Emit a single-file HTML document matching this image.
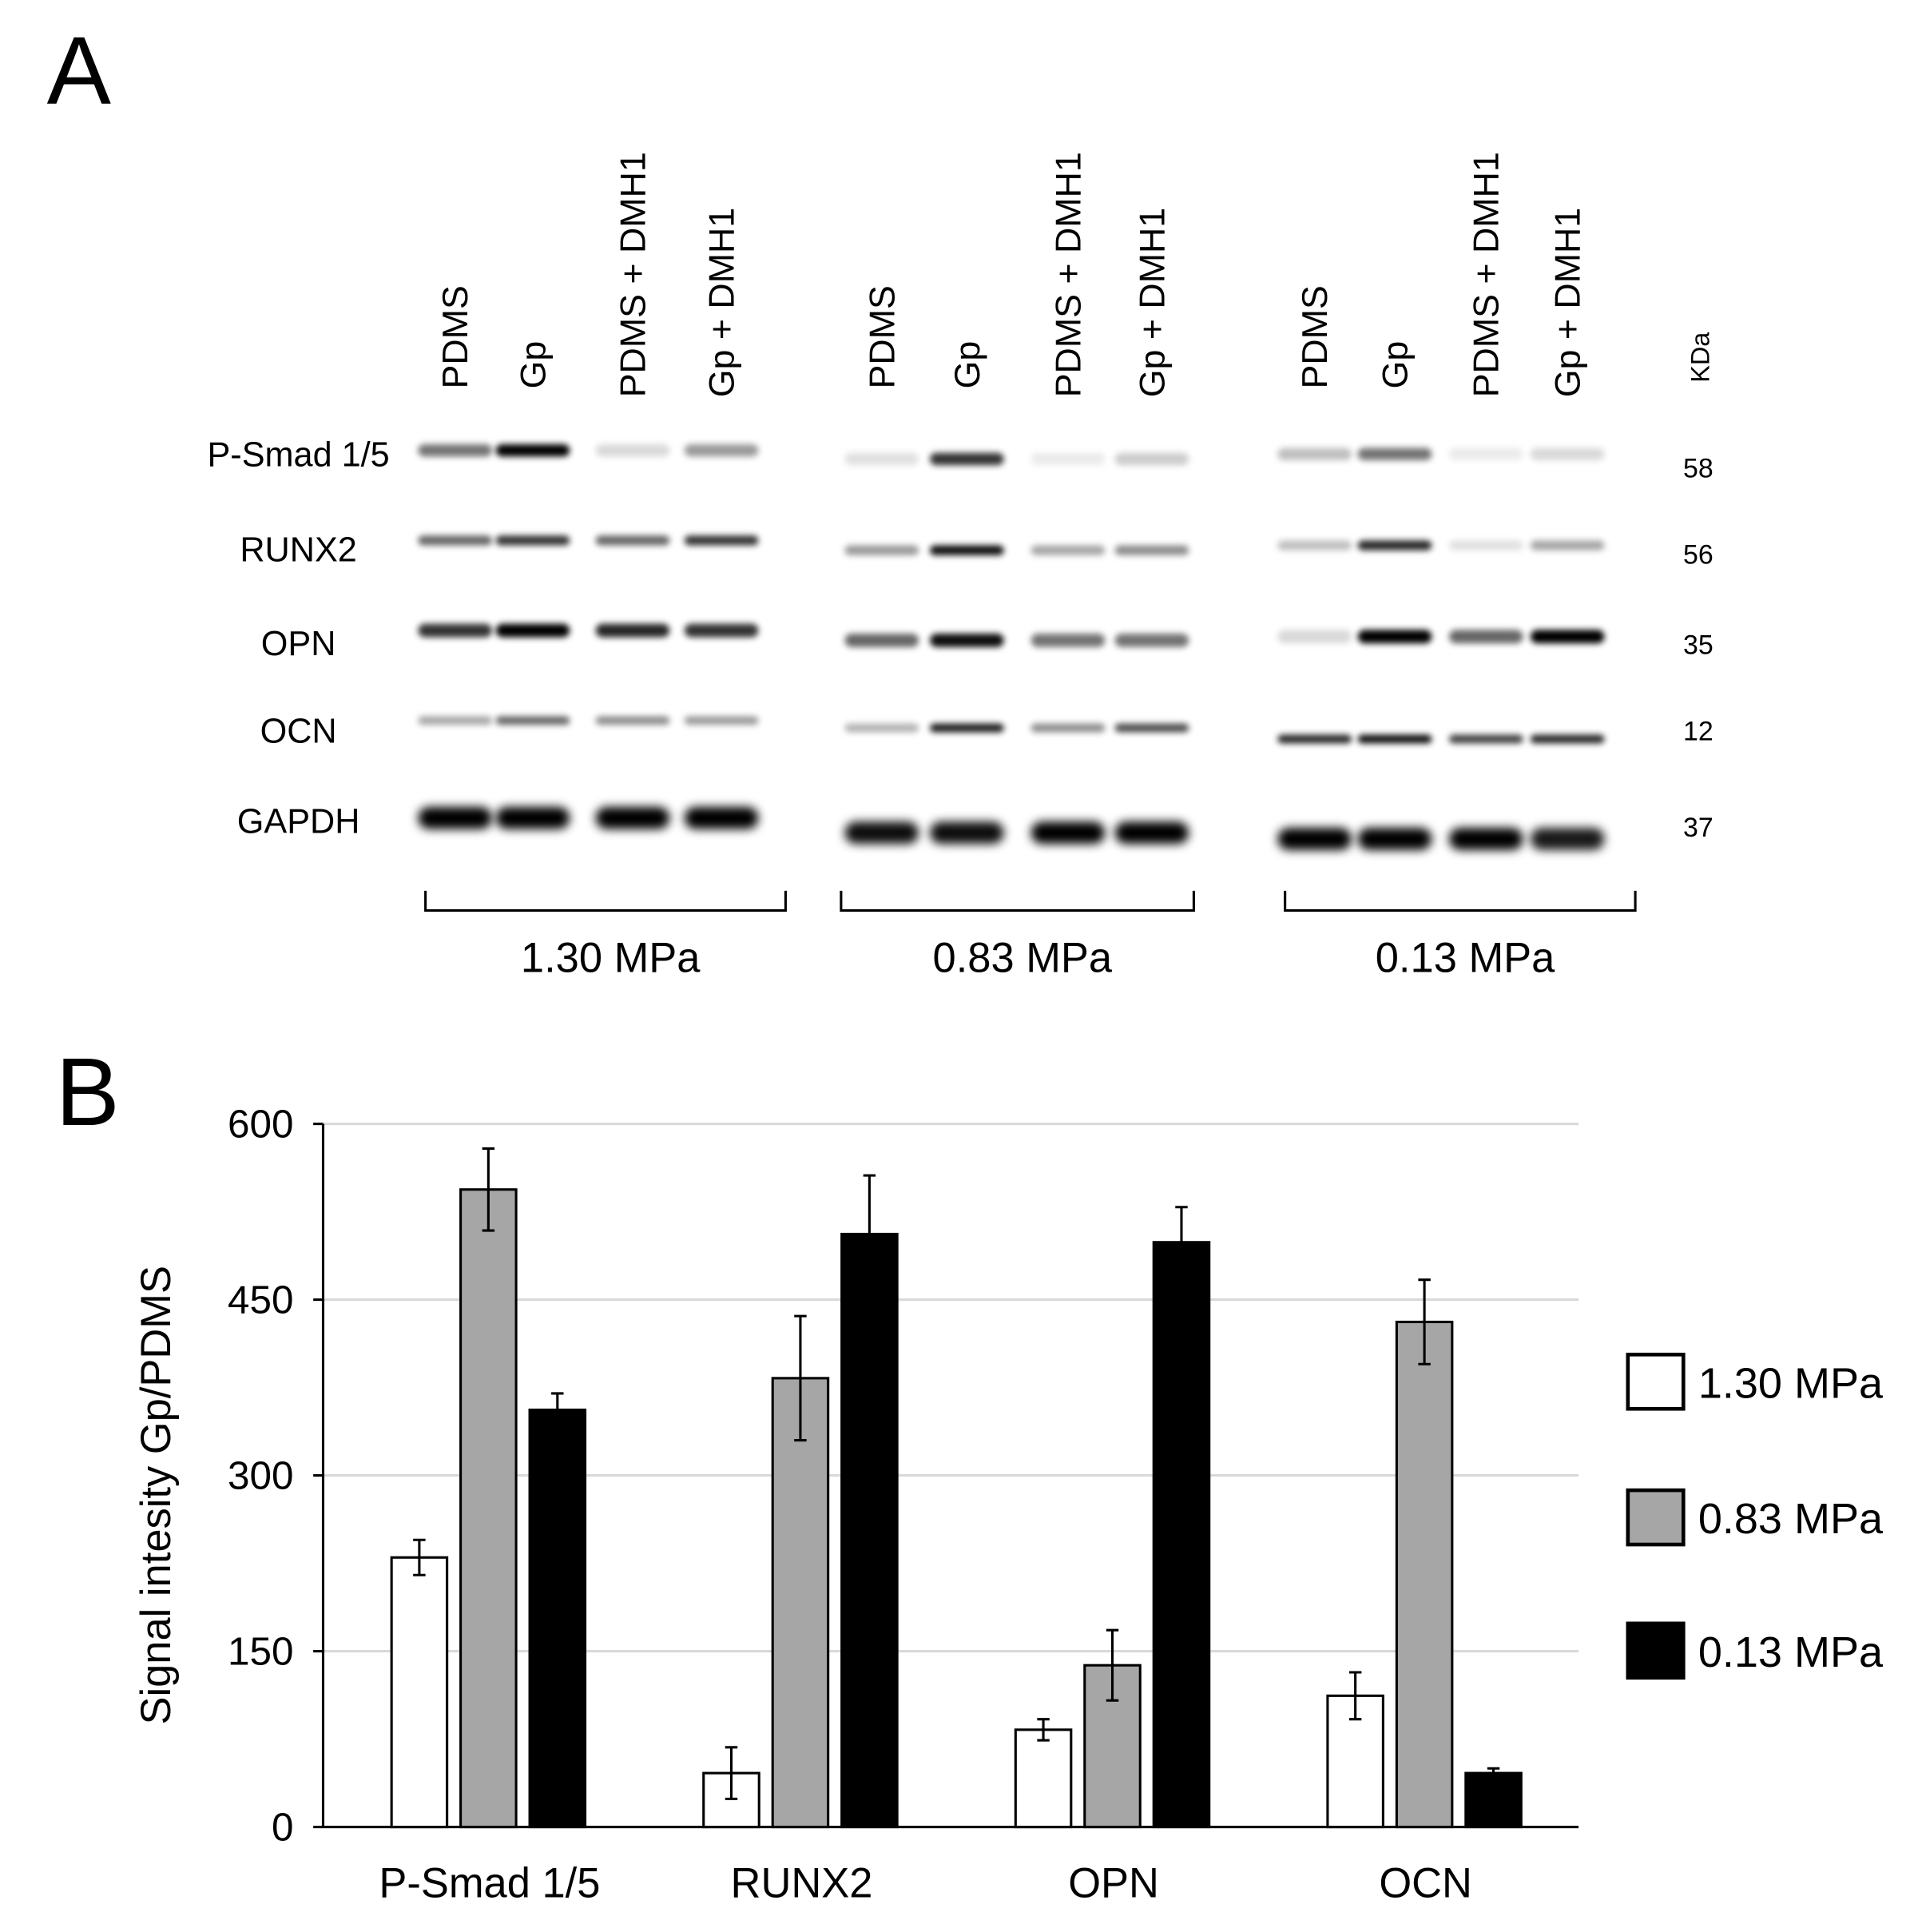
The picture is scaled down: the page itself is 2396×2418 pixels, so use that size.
<!DOCTYPE html>
<html><head><meta charset="utf-8"><style>
html,body{margin:0;padding:0;background:#fff}
svg{display:block;font-family:"Liberation Sans",Arial,sans-serif}
</style></head><body>
<svg id="fig" width="2396" height="2418" viewBox="0 0 1552 1566" xmlns="http://www.w3.org/2000/svg">
<defs>
<filter id="blur" x="-50%" y="-100%" width="200%" height="300%"><feGaussianBlur stdDeviation="2.5"/></filter>
<filter id="blur2" x="-50%" y="-100%" width="200%" height="300%"><feGaussianBlur stdDeviation="4"/></filter>
</defs>
<text x="38" y="84" font-size="78">A</text>
<text x="45" y="912" font-size="78">B</text>
<g id="blot"></g>
<g id="chart"></g>
</svg>
<script>
// ---------- Panel A data ----------
const laneNames = ["PDMS","Gp","PDMS + DMH1","Gp + DMH1"];
const groupNames = ["1.30 MPa","0.83 MPa","0.13 MPa"];
const proteinNames = ["P-Smad 1/5","RUNX2","OPN","OCN","GAPDH"];
const kdaValues = ["58","56","35","12","37"];
// band intensities [row][group][lane] 0..1
const bandIntensity = [
  [[0.55,1.0,0.15,0.4],[0.12,0.8,0.08,0.2],[0.25,0.55,0.08,0.15]],
  [[0.6,0.8,0.6,0.8],[0.4,0.95,0.35,0.45],[0.25,0.85,0.12,0.35]],
  [[0.8,1.0,0.85,0.8],[0.6,0.95,0.55,0.55],[0.15,1.0,0.6,1.0]],
  [[0.35,0.6,0.45,0.4],[0.3,0.9,0.45,0.7],[0.85,0.95,0.75,0.85]],
  [[1.0,1.0,1.0,1.0],[0.95,0.95,1.0,1.0],[1.0,1.0,1.0,0.9]]
];
const NS="http://www.w3.org/2000/svg";
function mk(tag, attrs, parent, txt){const e=document.createElementNS(NS,tag);for(const k in attrs)e.setAttribute(k,attrs[k]);if(txt!==undefined)e.textContent=txt;parent.appendChild(e);return e;}
const blot=document.getElementById('blot');
const laneX=[[369,432,513,585],[715,784,866,934],[1066,1131,1205,1271]];
const rowY=[[365,372,368],[438,446,442],[511,519,516],[584,590,599],[663,675,680]];
const rowH=[10,8,11,7,18];
const labelY=[368,445,521,592,665];
const kdaY=[379,449,522,592,670];
laneX.forEach((g,gi)=>g.forEach((x,li)=>{
  const t=mk('text',{x:0,y:0,'font-size':29,transform:`translate(${x+10},${li==2||li==3?322:315}) rotate(-90)`},blot,laneNames[li]);
  
  
}));
const kt=mk('text',{x:0,y:0,'font-size':21,transform:'translate(1386,310) rotate(-90)'},blot,'KDa');


proteinNames.forEach((p,ri)=>{
  const t=mk('text',{x:242,y:labelY[ri]+10,'font-size':28,'text-anchor':'middle'},blot,p);
  
  
  const k=mk('text',{x:1377,y:kdaY[ri]+8,'font-size':22,'text-anchor':'middle'},blot,kdaValues[ri]);
  
  
  bandIntensity[ri].forEach((g,gi)=>g.forEach((v,li)=>{
    const b=mk('rect',{x:laneX[gi][li]-30,y:rowY[ri][gi]-rowH[ri]/2,width:60,height:rowH[ri],rx:rowH[ri]/2,fill:'#000','fill-opacity':v,filter:ri==4?'url(#blur2)':'url(#blur)'},blot);
    
    
  }));
});
const brackets=[[345,637],[682,968],[1042,1326]];
brackets.forEach((br,i)=>{
  const p=mk('path',{d:`M${br[0]} 722 V738 H${br[1]} V722`,fill:'none',stroke:'#000','stroke-width':2},blot);
  
  
  const t=mk('text',{x:(br[0]+br[1])/2+4,y:788,'font-size':34,'text-anchor':'middle'},blot,groupNames[i]);
  
  
});

// ---------- Panel B data ----------
const categories = ["P-Smad 1/5","RUNX2","OPN","OCN"];
const seriesNames = ["1.30 MPa","0.83 MPa","0.13 MPa"];
const vals130 = [230,46,83,112];
const err130 = [15,22,9,20];
const vals083 = [544,383,138,431];
const err083 = [35,53,30,36];
const vals013 = [356,506,499,46];
const err013 = [14,50,30,4];
const yTicks = [0,150,300,450,600];

const chart=document.getElementById('chart');
const x0=262,x1=1280,yb=1481,yt=911;
const yScale=v=>yb-(v/600)*(yb-yt);
const catX=i=>397+i*253;
yTicks.forEach(t=>{
  if(t>0){const g=mk('line',{x1:x0,x2:x1,y1:yScale(t),y2:yScale(t),stroke:'#d9d9d9','stroke-width':2},chart);
  
  }
  const tk=mk('line',{x1:x0-8,x2:x0,y1:yScale(t),y2:yScale(t),stroke:'#000','stroke-width':2},chart);
  
  
  const l=mk('text',{x:238,y:yScale(t)+11,'font-size':32,'text-anchor':'end'},chart,String(t));
  
  
});
const series=[[vals130,err130,'#fff'],[vals083,err083,'#a6a6a6'],[vals013,err013,'#000']];
const offs=[-57,-1,55], bw=45;
series.forEach((s,si)=>{
  s[0].forEach((v,ci)=>{
    const cx=catX(ci)+offs[si];
    const r=mk('rect',{x:cx-bw/2,y:yScale(v),width:bw,height:yb-yScale(v),fill:s[2],stroke:'#000','stroke-width':2},chart);
    
    
    const e=s[1][ci];
    const eb=mk('path',{d:`M${cx} ${yScale(v+e)} V${yScale(v-e)} M${cx-5} ${yScale(v+e)} H${cx+5} M${cx-5} ${yScale(v-e)} H${cx+5}`,stroke:'#000','stroke-width':2,fill:'none'},chart);
    
    
  });
});
const ax=mk('line',{x1:x0,x2:x0,y1:yt,y2:yb,stroke:'#000','stroke-width':2},chart);


const xa=mk('line',{x1:x0,x2:x1,y1:yb,y2:yb,stroke:'#000','stroke-width':2},chart);


categories.forEach((c,i)=>{
  const t=mk('text',{x:catX(i),y:1538,'font-size':34,'text-anchor':'middle'},chart,c);
  
  
});
const yt2=mk('text',{x:0,y:0,'font-size':34,'text-anchor':'middle',transform:'translate(138,1212) rotate(-90)'},chart,'Signal intesity Gp/PDMS');


const legY=[1120,1230,1338];
seriesNames.forEach((n,i)=>{
  const r=mk('rect',{x:1320,y:legY[i]-22,width:45,height:44,fill:series[i][2],stroke:'#000','stroke-width':3},chart);
  
  
  const t=mk('text',{x:1377,y:legY[i]+13,'font-size':35},chart,n);
  
  
});
</script>
</body></html>
